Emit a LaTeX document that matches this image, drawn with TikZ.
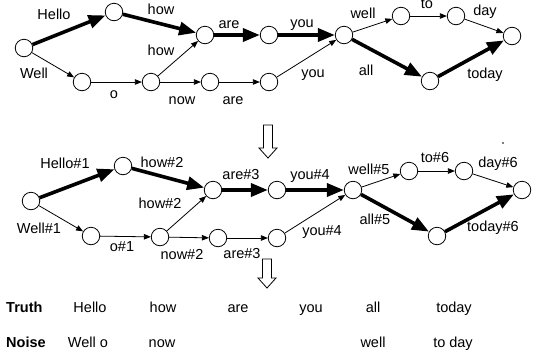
\documentclass[tikz,border=0pt]{standalone}
\usepackage{fontspec}
\setmainfont{Liberation Sans}
\usetikzlibrary{arrows.meta}
\tikzset{
  st/.style={circle,draw,line width=0.8pt,minimum size=17.5pt,inner sep=0pt,fill=white},
  lbl/.style={font=\fontsize{14.5}{16}\selectfont,inner sep=0pt,text height=10.3pt,text depth=0pt,anchor=center},
  thinarr/.style={line width=0.8pt,-{Triangle[length=7pt,width=5.5pt]}},
  thickarr/.style={line width=3.6pt,-{Triangle[length=17pt,width=13pt]}},
  bigarr/.style={draw,line width=0.8pt,fill=white,line join=miter}
}
\begin{document}
\begin{tikzpicture}[x=1pt,y=-1pt]
\useasboundingbox (0,0) rectangle (535,360);
% ---------- top graph ----------
\node[st] (A) at (24,48) {};
\node[st] (B) at (114,12) {};
\node[st] (C) at (82,82) {};
\node[st] (D) at (151,82) {};
\node[st] (E) at (205,35) {};
\node[st] (F) at (269,35) {};
\node[st] (G) at (210,82) {};
\node[st] (H) at (269,82) {};
\node[st] (I) at (344,35) {};
\node[st] (J) at (401,16) {};
\node[st] (K) at (456,16) {};
\node[st] (L) at (512,36) {};
\node[st] (M) at (430,81) {};
\draw[thickarr] (A) -- (B);
\draw[thinarr] (A) -- (C);
\draw[thinarr] (C) -- (D);
\draw[thickarr] (B) -- (E);
\draw[thinarr] (D) -- (E);
\draw[thinarr] (D) -- (G);
\draw[thinarr] (G) -- (H);
\draw[thickarr] (E) -- (F);
\draw[thickarr] (F) -- (I);
\draw[thinarr] (H) -- (I);
\draw[thinarr] (I) -- (J);
\draw[thinarr] (J) -- (K);
\draw[thinarr] (K) -- (L);
\draw[thickarr] (I) -- (M);
\draw[thickarr] (M) -- (L);
\node[lbl] (t1) at (54,14) {Hello};
\node[lbl] (t2) at (34,73) {Well};
\node[lbl] (t3) at (114,93) {o};
\node[lbl] (t4) at (161,9) {how};
\node[lbl] (t5) at (161,50) {how};
\node[lbl] (t6) at (229,23) {are};
\node[lbl] (t7) at (182,99) {now};
\node[lbl] (t8) at (233,99) {are};
\node[lbl] (t9) at (302,22) {you};
\node[lbl] (t10) at (313,72) {you};
\node[lbl] (t11) at (363,13) {well};
\node[lbl] (t12) at (427,3) {to};
\node[lbl] (t13) at (485,10) {day};
\node[lbl] (t14) at (366,70) {all};
\node[lbl] (t15) at (485,73) {today};
% ---------- arrow 1 ----------
\draw[bigarr] (263.5,125) -- (272.5,125) -- (272.5,148) -- (277,148) -- (268,158) -- (259,148) -- (263.5,148) -- cycle;
% ---------- second graph ----------
\node[st] (A2) at (31,201) {};
\node[st] (B2) at (123,166) {};
\node[st] (C2) at (91,236) {};
\node[st] (D2) at (160,237) {};
\node[st] (E2) at (213,190) {};
\node[st] (F2) at (277,190) {};
\node[st] (G2) at (218,238) {};
\node[st] (H2) at (277,238) {};
\node[st] (I2) at (353,190) {};
\node[st] (J2) at (409,171) {};
\node[st] (K2) at (464,171) {};
\node[st] (L2) at (522,190) {};
\node[st] (M2) at (437,236) {};
\draw[thickarr] (A2) -- (B2);
\draw[thinarr] (A2) -- (C2);
\draw[thinarr] (C2) -- (D2);
\draw[thickarr] (B2) -- (E2);
\draw[thinarr] (D2) -- (E2);
\draw[thinarr] (D2) -- (G2);
\draw[thinarr] (G2) -- (H2);
\draw[thickarr] (E2) -- (F2);
\draw[thickarr] (F2) -- (I2);
\draw[thinarr] (H2) -- (I2);
\draw[thinarr] (I2) -- (J2);
\draw[thinarr] (J2) -- (K2);
\draw[thinarr] (K2) -- (L2);
\draw[thickarr] (I2) -- (M2);
\draw[thickarr] (M2) -- (L2);
\node[lbl] (s1) at (65,163) {Hello\#1};
\node[lbl] (s2) at (39,228) {Well\#1};
\node[lbl] (s3) at (122,246) {o\#1};
\node[lbl] (s4) at (162,162) {how\#2};
\node[lbl] (s5) at (160,203) {how\#2};
\node[lbl] (s6) at (241,174) {are\#3};
\node[lbl] (s7) at (182,254) {now\#2};
\node[lbl] (s8) at (242,253) {are\#3};
\node[lbl] (s9) at (310,174) {you\#4};
\node[lbl] (s10) at (322,230) {you\#4};
\node[lbl] (s11) at (369,169) {well\#5};
\node[lbl] (s12) at (435,157) {to\#6};
\node[lbl] (s13) at (498,162) {day\#6};
\node[lbl] (s14) at (375,219) {all\#5};
\node[lbl] (s15) at (493,226) {today\#6};
\fill (503,143) circle (0.8pt);
% ---------- arrow 2 ----------
\draw[bigarr] (262.5,259) -- (271.5,259) -- (271.5,278) -- (276,278) -- (267,288) -- (258,278) -- (262.5,278) -- cycle;
% ---------- table ----------
\node[lbl,anchor=west,font=\fontsize{14.5}{16}\selectfont\bfseries] (truth) at (6,307) {Truth};
\node[lbl] (r1) at (90,307) {Hello};
\node[lbl] (r2) at (163,307) {how};
\node[lbl] (r3) at (238,307) {are};
\node[lbl] (r4) at (311,307) {you};
\node[lbl] (r5) at (373,307) {all};
\node[lbl] (r6) at (454,307) {today};
\node[lbl,anchor=west,font=\fontsize{14.5}{16}\selectfont\bfseries] (noise) at (6,342) {Noise};
\node[lbl] (n1) at (88,342) {Well o};
\node[lbl] (n2) at (162,342) {now};
\node[lbl] (n3) at (373,342) {well};
\node[lbl] (n4) at (453,342) {to day};
\end{tikzpicture}
\end{document}
